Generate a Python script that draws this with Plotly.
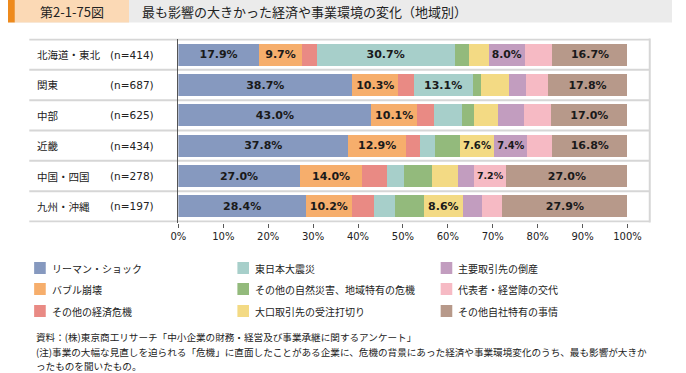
import plotly.graph_objects as go

W, H = 686, 373

regions = ["北海道・東北", "関東", "中部", "近畿", "中国・四国", "九州・沖縄"]
n_labels = ["(n=414)", "(n=687)", "(n=625)", "(n=434)", "(n=278)", "(n=197)"]

categories = ["リーマン・ショック", "バブル崩壊", "その他の経済危機",
              "東日本大震災", "その他の自然災害、地域特有の危機", "大口取引先の受注打切り",
              "主要取引先の倒産", "代表者・経営陣の交代", "その他自社特有の事情"]

lehman = [17.9, 38.7, 43.0, 37.8, 27.0, 28.4]
bubble = [9.7, 10.3, 10.1, 12.9, 14.0, 10.2]
other_econ = [3.2, 3.4, 3.9, 3.0, 5.4, 5.0]
quake = [30.7, 13.1, 6.2, 3.4, 3.9, 4.6]
other_disaster = [3.3, 1.9, 2.7, 5.6, 6.2, 6.5]
order_cut = [4.3, 6.2, 5.3, 7.6, 5.7, 8.6]
bankrupt = [8.0, 3.7, 5.7, 7.4, 3.6, 4.2]
succession = [6.2, 4.9, 6.1, 5.5, 7.2, 4.6]
other_own = [16.7, 17.8, 17.0, 16.8, 27.0, 27.9]

series = [lehman, bubble, other_econ, quake, other_disaster, order_cut,
          bankrupt, succession, other_own]

colors = ["#8699BF", "#F6AE6C", "#E98A84", "#A7CFCA", "#93BA7C",
          "#F3DA84", "#C29DBF", "#F6BAC4", "#B7998A"]

x_ticks = list(range(0, 101, 10))
x_ticklabels = [f"{t}%" for t in x_ticks]

LABEL_MIN = 7.0

fig = go.Figure()
for name, vals, col in zip(categories, series, colors):
    fig.add_trace(go.Bar(
        y=regions, x=vals, name=name, orientation="h",
        marker=dict(color=col, line=dict(width=0)),
        text=[f"{v:.1f}%" if v >= LABEL_MIN else "" for v in vals],
        textposition="inside", insidetextanchor="middle",
        textfont=dict(family="DejaVu Sans", size=11, color="#1a1a1a", weight="bold"),
        hoverinfo="skip", showlegend=False,
    ))

px = lambda v: v / W
py = lambda v: 1 - v / H

plot_l, plot_r, plot_t, plot_b = 176, 640, 38.5, 222.5

fig.update_layout(
    width=W, height=H, autosize=False, barmode="stack", bargap=0.27,
    margin=dict(l=0, r=0, t=0, b=0),
    paper_bgcolor="white", plot_bgcolor="white",
    xaxis=dict(domain=[px(plot_l), px(plot_r)], range=[0, 100],
               tickvals=x_ticks, ticktext=x_ticklabels,
               ticks="outside", ticklen=4, tickcolor="#595959",
               showgrid=False, zeroline=False, showline=False,
               tickfont=dict(family="DejaVu Sans", size=10, color="#222")),
    yaxis=dict(domain=[py(plot_b), py(plot_t)], autorange="reversed",
               showticklabels=False, ticks="", showgrid=False, zeroline=False,
               showline=True, linecolor="#555", linewidth=1.5),
    font=dict(family="Noto Sans CJK JP", color="#222"),
)

shapes = []
# title band
shapes.append(dict(type="rect", xref="paper", yref="paper", x0=0, x1=1,
                   y0=py(22.5), y1=py(0), fillcolor="#EBEBEB", line=dict(width=0), layer="below"))
shapes.append(dict(type="rect", xref="paper", yref="paper", x0=px(7), x1=px(125),
                   y0=py(22.5), y1=py(0), fillcolor="#FBD9B5", line=dict(width=0), layer="below"))
shapes.append(dict(type="rect", xref="paper", yref="paper", x0=0, x1=px(7),
                   y0=py(22.5), y1=py(0), fillcolor="#EE8A1C", line=dict(width=0), layer="below"))
# table row lines
for i in range(len(regions) + 1):
    shapes.append(dict(type="line", xref="paper", yref="y", x0=px(22), x1=px(663),
                       y0=i - 0.5, y1=i - 0.5, line=dict(color="#D6D6D6", width=2), layer="below"))
shapes.append(dict(type="line", xref="paper", yref="paper", x0=px(663), x1=px(663),
                   y0=py(plot_b), y1=py(plot_t), line=dict(color="#D6D6D6", width=2), layer="below"))

annotations = []
annotations.append(dict(text="第2-1-75図", xref="paper", yref="paper", x=px(66), y=py(11.5),
                        showarrow=False, xanchor="center", yanchor="middle",
                        font=dict(size=13, color="#222", family="Noto Sans CJK JP")))
annotations.append(dict(text="最も影響の大きかった経済や事業環境の変化（地域別）", xref="paper", yref="paper",
                        x=px(136), y=py(11.5), showarrow=False, xanchor="left", yanchor="middle",
                        font=dict(size=13, color="#222", family="Noto Sans CJK JP")))
for r, n in zip(regions, n_labels):
    annotations.append(dict(text=r, xref="paper", yref="y", x=px(28), y=r, showarrow=False,
                            xanchor="left", yanchor="middle",
                            font=dict(size=10.5, color="#222", family="Noto Sans CJK JP")))
    annotations.append(dict(text=n, xref="paper", yref="y", x=px(103), y=r, showarrow=False,
                            xanchor="left", yanchor="middle",
                            font=dict(size=10.5, color="#222", family="DejaVu Sans")))

# legend (3 columns, filled column-wise)
leg_x = [27, 237, 447]
leg_y = [268, 289, 311]
for k, (name, col) in enumerate(zip(categories, colors)):
    c, r = divmod(k, 3)
    x0, yc = leg_x[c], leg_y[r]
    shapes.append(dict(type="rect", xref="paper", yref="paper", x0=px(x0), x1=px(x0 + 12),
                       y0=py(yc + 6), y1=py(yc - 6), fillcolor=col, line=dict(width=0)))
    annotations.append(dict(text=name, xref="paper", yref="paper", x=px(x0 + 16), y=py(yc),
                            showarrow=False, xanchor="left", yanchor="middle",
                            font=dict(size=10, color="#222", family="Noto Sans CJK JP")))

notes = ["資料：(株)東京商工リサーチ「中小企業の財務・経営及び事業承継に関するアンケート」",
         "(注)事業の大幅な見直しを迫られる「危機」に直面したことがある企業に、危機の背景にあった経済や事業環境変化のうち、最も影響が大きか",
         "ったものを聞いたもの。"]
for line, yv in zip(notes, [337, 352, 366]):
    annotations.append(dict(text=line, xref="paper", yref="paper", x=px(27), y=py(yv),
                            showarrow=False, xanchor="left", yanchor="middle",
                            font=dict(size=9.6, color="#222", family="Noto Sans CJK JP")))

fig.update_layout(shapes=shapes, annotations=annotations)
fig.write_html("out.html",
               config={"responsive": False, "displayModeBar": False, "staticPlot": True},
               post_script="document.body.style.margin='0';document.body.style.overflow='hidden';")
